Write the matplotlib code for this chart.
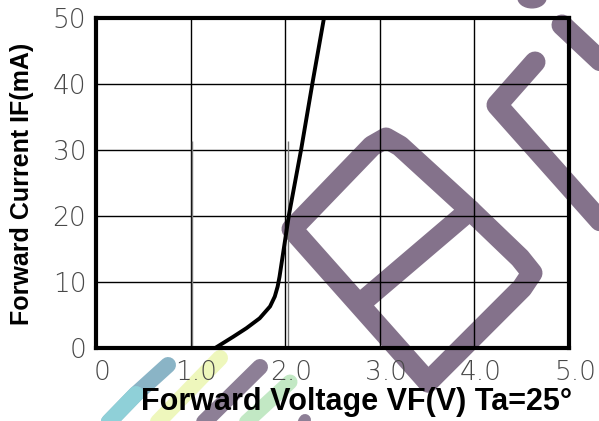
import numpy as np
import matplotlib
matplotlib.use("Agg")
import matplotlib.pyplot as plt
import matplotlib.transforms as mtransforms
from matplotlib.lines import Line2D
from matplotlib.patches import Circle

# forward curve
vf = [1.26, 1.31, 1.45, 1.59, 1.73, 1.84, 1.89, 1.92, 1.94, 2.04, 2.17, 2.29, 2.41]
i_f = [0.0, 0.45, 1.7, 3.0, 4.5, 6.3, 7.8, 9.3, 10.8, 20.2, 30.2, 40.3, 50.0]

x_ticks = [0, 1, 2, 3, 4, 5]
x_labels = ["0", "1.0", "2.0", "3.0", "4.0", "5.0"]
y_ticks = [0, 10, 20, 30, 40, 50]
y_labels = ["0", "10", "20", "30", "40", "50"]

# short marker lines at 1.0 V and 2.0 V
mark_v = [1.02, 2.025]
mark_top = 31.3

W, H = 599, 421
fig = plt.figure(figsize=(W / 100, H / 100), dpi=100)
ax = fig.add_axes([96 / W, 1 - 348 / H, (569 - 96) / W, (348 - 18) / H])
ax.set_facecolor("none")


def px(xs, ys):
    return [x / W for x in xs], [1 - y / H for y in ys]


def stroke(xs, ys, color, width, alpha=1.0):
    fx, fy = px(xs, ys)
    fig.add_artist(Line2D(fx, fy, transform=fig.transFigure, color=color,
                          lw=width * 0.72, solid_capstyle="round",
                          solid_joinstyle="round", alpha=alpha, zorder=-1))


# watermark behind the chart
wm = "#84728b"
stroke([428, 292, 372, 386, 400, 470, 362], [382, 229, 146, 138, 146, 210, 302], wm, 21)
stroke([470, 520, 532, 522, 428], [210, 258, 273, 288, 382], wm, 21)
stroke([535, 497, 610], [62, 105, 232], wm, 21)
stroke([562, 610], [25, 70], wm, 21)
fig.add_artist(Circle((532 / W, 1 + 2 / H), 14 / W, transform=fig.transFigure,
                      color=wm, zorder=-1))
stroke([168, 136, 103], [365, 394, 428], "#8ab4c6", 16)
stroke([136, 103], [394, 428], "#8fd0d8", 16)
stroke([220, 155], [358, 425], "#eef7bc", 16)
stroke([260, 198], [367, 428], "#8d7f96", 16)
stroke([290, 240], [382, 428], "#c2e8c4", 15)
stroke([305, 300], [420, 428], "#8d7f96", 12)

ax.set_xlim(0, 5)
ax.set_ylim(0, 50)
ax.set_xticks(x_ticks)
ax.set_yticks(y_ticks)
ax.set_xticklabels(x_labels)
ax.set_yticklabels(y_labels)
ax.grid(True, color="black", lw=1.0)
ax.tick_params(length=0, labelsize=19, labelcolor="#484848")
ax.tick_params(axis="x", pad=9)
ax.tick_params(axis="y", pad=7)
shift = mtransforms.ScaledTranslation(6 / 100, 0, fig.dpi_scale_trans)
for lab in ax.get_xticklabels():
    lab.set_transform(lab.get_transform() + shift)
for lab in ax.get_xticklabels() + ax.get_yticklabels():
    lab.set_fontweight("light")
for s in ax.spines.values():
    s.set_linewidth(3)
    s.set_color("black")

ax.vlines(mark_v, 0, mark_top, color="#777777", lw=1.0)
ax.plot(vf, i_f, color="black", lw=2.8, solid_capstyle="round",
        solid_joinstyle="round")

fig.text(357 / W, 1 - 402 / H, "Forward Voltage VF(V) Ta=25°",
         ha="center", va="center", fontsize=22, fontweight="bold",
         family="Liberation Sans")
fig.text(22 / W, 1 - 184 / H, "Forward Current IF(mA)", rotation=90,
         ha="center", va="center", fontsize=18, fontweight="bold",
         family="Liberation Sans")

fig.savefig("out.png", dpi=100)
